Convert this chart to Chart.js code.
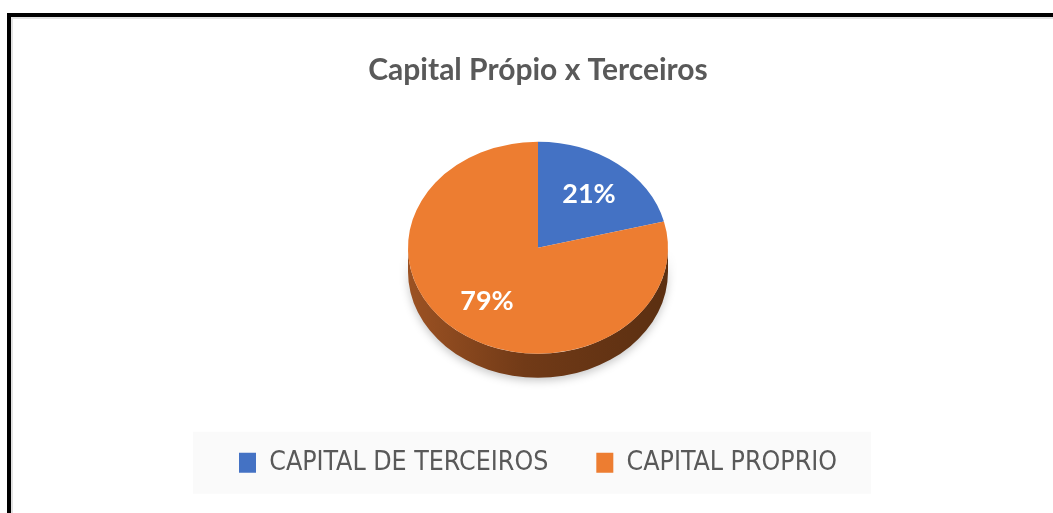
<!DOCTYPE html>
<html>
<head>
<meta charset="utf-8">
<script src="https://cdn.jsdelivr.net/npm/chart.js@4"></script>
<style>
  html, body { margin: 0; padding: 0; background: #fff; overflow: hidden; }
  body { width: 1053px; height: 513px; position: relative; }
  /* black frame of the chart object, right and bottom edges run off the picture */
  .frame {
    position: absolute; left: 7px; top: 13px; width: 1200px; height: 700px;
    border-left: 4px solid #000; border-top: 4px solid #000;
    box-shadow: inset 2px 2px 0 #e2e2e2;
  }
  .wrap { position: absolute; left: 11px; top: 0; width: 1054px; height: 513px; }
</style>
</head>
<body>
<div class="frame"></div>
<div class="wrap"><canvas id="pie"></canvas></div>
<script>
// data
const categories = ['CAPITAL DE TERCEIROS', 'CAPITAL PROPRIO'];
const shares = [21, 79];
const sliceColors = ['#4472C4', '#ED7D31'];

const SQUASH = 0.815;   // vertical flattening of the tilted pie
const DEPTH = 24;       // thickness of the pie wall in px
const LABEL_POS = 0.64; // label distance from centre, fraction of radius

// --- fake 3D: flatten the arcs and paint the front wall underneath ---
const tiltPlugin = {
    id: 'tilt',
    beforeDraw(chart) {
        // faint grey panel behind the legend
        const boxes = chart.legend.legendHitBoxes;
        if (!boxes || !boxes.length) return;
        const left = Math.min(...boxes.map(b => b.left));
        const right = Math.max(...boxes.map(b => b.left + b.width));
        const mid = boxes[0].top + boxes[0].height / 2;
        const ctx = chart.ctx;
        ctx.save();
        ctx.fillStyle = '#fafafa';
        ctx.fillRect(left - 46, mid - 31, right - left + 80, 62);
        ctx.restore();
    },
    beforeDatasetsDraw(chart) {
        const arcs = chart.getDatasetMeta(0).data;
        const {x, y, outerRadius: r} = arcs[0];
        const ctx = chart.ctx;
        ctx.save();
        ctx.translate(x, y);
        ctx.scale(1, SQUASH);
        ctx.translate(-x, -y);

        const d = DEPTH / SQUASH;
        ctx.save();
        ctx.shadowColor = 'rgba(0,0,0,0.22)';
        ctx.shadowBlur = 8;
        ctx.shadowOffsetY = 3;
        arcs.forEach(arc => {
            const a0 = Math.max(arc.startAngle, 0);
            const a1 = Math.min(arc.endAngle, Math.PI);
            if (a1 <= a0) return;
            const g = ctx.createLinearGradient(x - r, 0, x + r, 0);
            g.addColorStop(0, '#9c5223');
            g.addColorStop(0.45, '#713a17');
            g.addColorStop(1, '#5b2f11');
            ctx.fillStyle = g;
            ctx.beginPath();
            ctx.arc(x, y, r, a0, a1);
            ctx.arc(x, y + d, r, a1, a0, true);
            ctx.closePath();
            ctx.fill();
        });
        ctx.restore();
    },
    afterDatasetsDraw(chart) {
        const ctx = chart.ctx;
        ctx.restore();
        const arcs = chart.getDatasetMeta(0).data;
        const total = shares.reduce((a, b) => a + b, 0);
        ctx.save();
        ctx.fillStyle = '#ffffff';
        ctx.font = 'bold 27px Lato, "Open Sans", sans-serif';
        ctx.textAlign = 'center';
        ctx.textBaseline = 'middle';
        arcs.forEach((arc, i) => {
            const mid = (arc.startAngle + arc.endAngle) / 2;
            const rr = arc.outerRadius * LABEL_POS;
            const px = arc.x + Math.cos(mid) * rr;
            const py = arc.y + Math.sin(mid) * rr * SQUASH;
            ctx.fillText(Math.round(shares[i] / total * 100) + '%', px, py);
        });
        ctx.restore();
    }
};

new Chart(document.getElementById('pie'), {
    type: 'pie',
    data: {
        labels: categories,
        datasets: [{
            data: shares,
            backgroundColor: sliceColors,
            borderWidth: 0,
            radius: 130
        }]
    },
    options: {
        responsive: true,
        maintainAspectRatio: false,
        animation: false,
        layout: { padding: { top: 0, bottom: 27, left: 0, right: 0 } },
        plugins: {
            title: {
                display: true,
                text: 'Capital Própio x Terceiros',
                color: '#595959',
                font: { family: 'Lato, "Open Sans", sans-serif', size: 30, weight: 'bold' },
                padding: { top: 52, bottom: 6 }
            },
            legend: {
                position: 'bottom',
                labels: {
                    color: '#595959',
                    font: { family: '"Liberation Sans Narrow", "DejaVu Sans Condensed", sans-serif', size: 26.5 },
                    boxWidth: 17,
                    boxHeight: 20,
                    padding: 48
                }
            },
            tooltip: { enabled: false }
        }
    },
    plugins: [tiltPlugin]
});
</script>
</body>
</html>
